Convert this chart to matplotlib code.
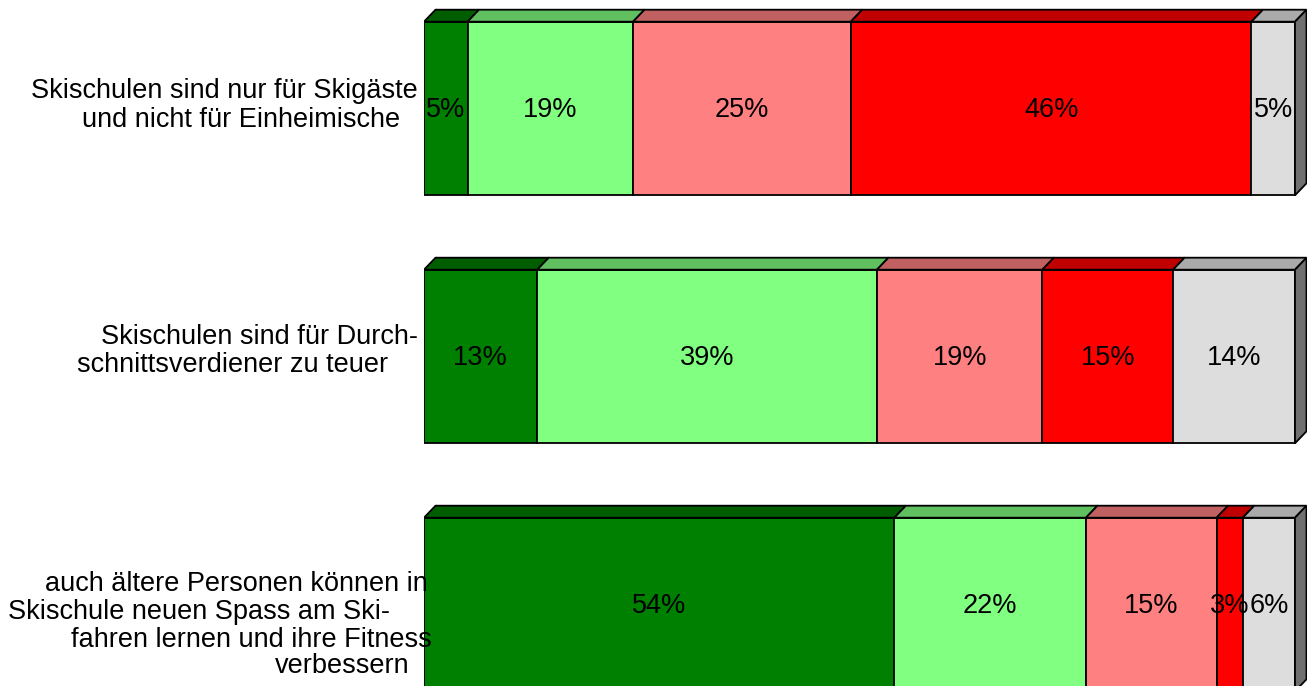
import matplotlib
matplotlib.use("Agg")
import matplotlib.pyplot as plt
from matplotlib.patches import Polygon
from matplotlib.transforms import ScaledTranslation, blended_transform_factory

# statements, one entry per bar, split into the lines as they are printed
statements = [
    ["Skischulen sind nur für Skigäste", "und nicht für Einheimische"],
    ["Skischulen sind für Durch-", "schnittsverdiener zu teuer"],
    ["auch ältere Personen können in", "Skischule neuen Spass am Ski-",
     "fahren lernen und ihre Fitness", "verbessern"],
]

# answer shares in percent, from full agreement to no answer
share_agree = [5, 13, 54]
share_rather_agree = [19, 39, 22]
share_rather_disagree = [25, 19, 15]
share_disagree = [46, 15, 3]
share_no_answer = [5, 14, 6]

FRONT = ["#008000", "#80ff80", "#ff8080", "#ff0000", "#dddddd"]
TOP = ["#005e00", "#60c060", "#c06060", "#c00000", "#aaaaaa"]
SIDE = "#707070"

W, H, DPI = 1307, 686, 100
X0_PX, X100_PX, ROW_PX = 424, 1295, 248
DEPTH_X_PX, DEPTH_Y_PX = 11.5, 12
BAR_H = 0.70

# per-line right edge and baseline offset (pixels) of the statement labels
label_right_px = [[418, 400], [418, 388], [428, 390, 432, 410]]
label_base_px = [[-10.5, 18.5], [-12.5, 15.5], [-13.5, 14.5, 42.5, 68.5]]

FONT = ["Liberation Sans", "DejaVu Sans"]
FS = 19.5


def main() -> None:
    series = [share_agree, share_rather_agree, share_rather_disagree,
              share_disagree, share_no_answer]

    fig = plt.figure(figsize=(W / DPI, H / DPI), dpi=DPI)
    ax = fig.add_axes([X0_PX / W, 0, (W - X0_PX) / W, 1])
    x_per_px = 100.0 / (X100_PX - X0_PX)
    ax.set_xlim(0, (W - X0_PX) * x_per_px)
    top_row = -108.5 / ROW_PX
    ax.set_ylim(top_row + H / ROW_PX, top_row)
    ax.axis("off")

    dx = DEPTH_X_PX * x_per_px
    dy = DEPTH_Y_PX / ROW_PX
    nudge = ScaledTranslation(0, -1.5 / DPI, fig.dpi_scale_trans)

    for i in range(len(statements)):
        top = i - BAR_H / 2
        bottom = i + BAR_H / 2
        left = 0.0
        for k, vals in enumerate(series):
            v = vals[i]
            ax.barh(i, v, left=left, height=BAR_H, color=FRONT[k],
                    edgecolor="black", linewidth=1.3, zorder=2)
            ax.add_patch(Polygon(
                [(left, top), (left + dx, top - dy), (left + v + dx, top - dy), (left + v, top)],
                closed=True, facecolor=TOP[k], edgecolor="black", linewidth=1.3, zorder=2))
            ax.text(left + v / 2, i, f"{v}%", ha="center", va="center",
                    transform=ax.transData + nudge,
                    fontsize=FS, family=FONT, color="black", zorder=4)
            left += v
        ax.add_patch(Polygon(
            [(left, top), (left + dx, top - dy), (left + dx, bottom - dy), (left, bottom)],
            closed=True, facecolor=SIDE, edgecolor="black", linewidth=1.3, zorder=2))

        base = blended_transform_factory(fig.transFigure, ax.transData)
        for line, rx, off in zip(statements[i], label_right_px[i], label_base_px[i]):
            tr = base + ScaledTranslation(0, -off / DPI, fig.dpi_scale_trans)
            ax.text(rx / W, i, line, transform=tr, ha="right", va="baseline",
                    fontsize=FS, family=FONT, color="black", zorder=5, clip_on=False)

    fig.savefig("out.png", dpi=DPI, facecolor="white")
    plt.close(fig)


if __name__ == "__main__":
    main()
